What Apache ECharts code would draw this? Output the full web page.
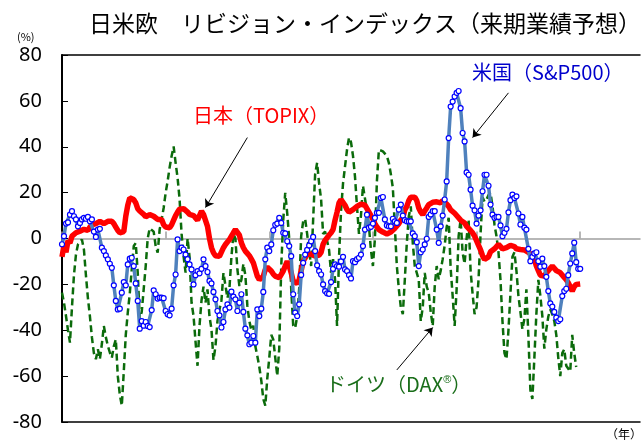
<!DOCTYPE html>
<html>
<head>
<meta charset="utf-8">
<script src="https://cdn.jsdelivr.net/npm/echarts@6/dist/echarts.min.js"></script>
<style>
  html, body { margin: 0; padding: 0; background: #fff; }
  #chart-container { width: 642px; height: 444px; }
</style>
</head>
<body>
<div id="chart-container"></div>
<script>
// weekly revision index (%)
var usRevision = [
  -2.5, 1, 6.5, 7, 10.4, 11.9, 9.7, 8.3, 5.3, 6.8,
  8.3, 9, 8.6, 9.4, 7.5, 8.3, 3, 0.7, 3.9, 4.2,
  -4, -5.5, -7.4, -9.1, -11, -12.8, -20.4, -27.2, -30.9, -30.6,
  -23.6, -19, -20.4, -11.3, -8.8, -8.4, -12, -19.6, -27.2, -39.3,
  -36, -38, -36.4, -38.1, -38.6, -31.2, -22.6, -24.3, -26.2, -25.8,
  -25.8, -26, -31.6, -33, -33.5, -30.6, -20.4, -15.7, -0.4, -5.5,
  -4, -4.8, -7, -9, -11.3, -13.5, -20, -16, -14.2, -15.2,
  -13.2, -9.1, -12, -14.6, -18.5, -19.6, -23.3, -26.5, -31.6, -33.5,
  -38.8, -36.4, -30.9, -28.7, -30.1, -23.2, -25.3, -26.5, -31.6, -28,
  -24.3, -32, -39.3, -42.2, -46.1, -45.4, -42.5, -45.4, -30.9, -33.8,
  -30.6, -23.3, -9.1, -4, -5.5, -2.6, 3.6, 6, 6.5, 9,
  6.8, 2.5, 2.2, -1.2, -3.3, -7.7, -24.3, -32.3, -33.8, -28.7,
  -15.9, -10.6, -7, -5, -3, -1.2, 0.7, -5.5, -11.7, -14.2,
  -15.7, -20, -22.9, -23.9, -24.1, -19, -13.2, -11.3, -12, -12.3,
  -10, -8, -13.5, -14.2, -16, -17.4, -9.9, -10.3, -9, -8.4,
  -7, -3.3, 3.9, 10.4, 4.7, 5.1, 6.5, 9, 11.2, 11.2,
  17.7, 18.1, 8.3, 5.7, 5.3, 5.3, 8.6, 7.5, 6.8, 12.6,
  14.8, 10, 8, 7.5, 7.5, 7.5, 2.2, 1, -1.6, -12,
  -6, -4.8, -2.6, -0.1, 9.4, 10.5, 11.9, 11.9, 3.9, -1.9,
  5.3, 10, 17, 24.9, 43.8, 57.5, 59.7, 61.9, 63.5, 64.3,
  56.8, 46, 42.3, 28.8, 27.8, 21.3, 14.3, 12.3, 6.5, 10,
  12.3, 20.6, 27.8, 27.8, 23, 14.8, 10.4, 9, 9.4, 9.4,
  5.7, 1, 2.5, 4.2, 11.4, 16.7, 19.1, 17.7, 18.4, 10.9,
  6.1, 9.4, 4.7, 3.9, -4.5, -9.9, -8, -6.5, -6, -9.9,
  -12.3, -8.8, -12, -16.7, -22.9, -28.3, -29.7, -32, -34.5, -36,
  -35.2, -25.1, -22.9, -21.9, -16, -10.9, -6.5, -1.8, -10.3, -13.2,
  -13.2
];

var japanRevision = [
  -8, -3, -6, -1, -2, 1, 1.5, 2.5, 3, 3.2,
  2.5, 4, 4.7, 3.5, 5, 6, 5.5, 6.5, 6.8, 7.5,
  7, 6.5, 7, 7.5, 7.5, 7.5, 6.5, 5, 3.5, 2.5,
  2.2, 3, 9.7, 14.5, 17.7, 18, 17, 15.5, 13, 12,
  11.5, 10.5, 9.5, 9.5, 10.4, 10, 9.7, 9, 8.3, 8.5,
  8.3, 6, 5, 4.7, 4.7, 6, 8, 10, 11.5, 12.8,
  13.3, 13, 12.5, 11.5, 10.5, 10, 10, 9, 8, 10,
  11.9, 10.5, 10, 5.3, 0, -4, -6.2, -7.5, -8, -7.8,
  -7, -4, -2.6, -1.5, -0.5, 1, 2.5, 3.9, 3.5, 1.5,
  -1.9, -4, -5.5, -6.5, -7.5, -9, -10.6, -13.5, -16.4, -18,
  -18.6, -16.5, -13.5, -12.5, -12.3, -14.2, -15.5, -16.4, -17, -17.1,
  -16.5, -14.2, -12, -9.9, -12, -15, -18.6, -19.3, -19.6, -18,
  -14, -9.9, -8.4, -7, -6.2, -6.8, -7.2, -7.7, -7.5, -7.2,
  -6, -2.5, -0.8, 0, 1.5, 2.5, 3.9, 8, 11.5, 15.5,
  17, 16.5, 14.5, 12.6, 11.5, 11.9, 12.6, 13.3, 14, 14.8,
  15, 15.5, 14.5, 13, 12.6, 10, 8.5, 6.5, 5, 3.9,
  3.2, 2.8, 2.5, 2, 2.3, 2.8, 3.2, 4.5, 4.7, 6.5,
  8, 9, 12.5, 14, 16.5, 18, 18.7, 18, 16.5, 13.3,
  11.5, 10.4, 12, 13.3, 14.8, 15, 15.8, 16.2, 16, 15.5,
  15.5, 16.5, 16, 15, 14, 12.5, 11.9, 11, 10, 10,
  8, 7.2, 6.8, 5.3, 4.5, 3.5, 2.5, 1, 0.3, -3,
  -5, -7.5, -9.1, -9, -8, -5.8, -5, -4.5, -4, -2.6,
  -3.5, -4.5, -4.8, -4, -3.3, -3, -2.6, -3.5, -4.5, -4.8,
  -4.8, -4.8, -5, -5.5, -6, -6.5, -7.4, -9, -12, -14,
  -16, -16.4, -16.4, -15, -14, -13, -12, -12.8, -14, -14.5,
  -14.9, -15.5, -17, -18, -19.3, -21, -23, -21, -20, -20,
  -19.8
];

var germanyRevision = [
  -23.6, -28, -33.8, -40, -45.4, -30, -16, -7, -2.6, -1.5,
  -0.4, -4.8, -16, -26, -33.8, -43, -50, -52.6, -48.3, -52.6,
  -46, -38.1, -43, -46.8, -49.7, -52, -47, -44, -60, -68,
  -72.9, -58, -42, -32.3, -24, -13.5, -3.3, -2, -15, -35,
  -32, -22, -12, 0, 4.5, 5.3, 3, -3.3, -6.2, 4,
  8.3, 13.3, 19.9, 25, 31, 36, 40.1, 33, 26.4, 17,
  2, -7.7, -14.9, 0, -8, -28, -33.8, -45, -55.5, -38,
  -27, -21, -28, -22.2, -34, -39.6, -53, -47, -36, -31,
  -27, -15, -15, -26, -22, -8, 2, 0, -13.5, -20.7,
  -18, -11, -16, -29.4, -36, -40, -38, -47, -51.2, -56,
  -62, -70, -72.9, -61, -52, -42, -44, -52, -59.9, -48,
  -12, 8, 19.9, 11, 0, -22, -38, -39, -34, -22,
  1, 7.5, 8.5, 2, -5.5, -12, 8, 28, 33, 24,
  17, 2, 3, 3, -5, -15, -9, -18, -38.1, -8,
  12, 24, 31.4, 38.7, 44, 42, 36, 27, 14, 2,
  10, 23, 23.5, 12, 5.3, -5, -12, 0, 25, 38.7,
  39.4, 38, 37, 36, 33, 28, 22, 5, -12, -22,
  -30, -33, -18, -2, 9.7, 14, -2, -12, -15, -18,
  -36, -30, -15, -21, -23.6, -32, -38.1, -21, -12, -17.8,
  -14, -9, -3, 5, 9, -13, -25, -38.1, -22, 1,
  8.3, -6.2, -11, 0, 8.3, -14, -24, -33, -30, -17.8,
  2, 18, 16, 17, 19, 19.9, 14, 6, 1, -6,
  -18, -36, -50, -52.6, -40, -24, -8, -6, -14, -25,
  -32, -39.6, -35, -22.2, -42.5, -66, -70, -52, -33, -18,
  -25, -33.8, -48, -39.6, -34, -31, -33, -36, -42, -52,
  -60, -50, -48.3, -55.5, -55.5, -58, -42, -50, -56
];

// one category per week, axis runs a little past the last data week
var weekCount = 291;
var weeksPerYear = 52;
var weeks = [];
for (var i = 0; i < weekCount; i++) {
  weeks.push(String(i));
}

var titleText = '日米欧　リビジョン・インデックス（来期業績予想）';
var cjkFont = '"Noto Sans CJK JP", "Noto Sans", sans-serif';

var myChart = echarts.init(document.getElementById('chart-container'));

var option = {
  animation: false,
  title: {
    text: titleText,
    left: 84,
    top: 7,
    textStyle: {
      fontSize: 23,
      fontWeight: 'normal',
      color: '#000',
      fontFamily: cjkFont
    }
  },
  grid: {
    left: 62,
    right: 2,
    top: 55,
    bottom: 22
  },
  xAxis: [
    {
      // zero line with yearly ticks
      type: 'category',
      data: weeks,
      boundaryGap: false,
      axisLine: { onZero: true, lineStyle: { color: '#a0a0a0', width: 1.5 } },
      axisTick: {
        show: true,
        inside: true,
        length: 7,
        interval: function(index) { return index % weeksPerYear === 0; },
        lineStyle: { color: '#a0a0a0', width: 1.5 }
      },
      axisLabel: { show: false },
      splitLine: { show: false }
    },
    {
      type: 'category',
      data: weeks,
      position: 'top',
      boundaryGap: false,
      axisLine: { onZero: false, lineStyle: { color: '#000', width: 1.5 } },
      axisTick: { show: false },
      axisLabel: { show: false }
    },
    {
      type: 'category',
      data: weeks,
      position: 'bottom',
      boundaryGap: false,
      axisLine: { onZero: false, lineStyle: { color: '#000', width: 1.5 } },
      axisTick: { show: false },
      axisLabel: { show: false }
    }
  ],
  yAxis: {
    type: 'value',
    min: -80,
    max: 80,
    interval: 20,
    axisLine: { show: true, lineStyle: { color: '#000', width: 2 } },
    axisTick: { show: true, inside: true, length: 6, lineStyle: { color: '#000' } },
    axisLabel: { fontSize: 20, color: '#000', margin: 20, fontFamily: '"Noto Sans", sans-serif' },
    splitLine: { show: false }
  },
  graphic: [
    { type: 'text', left: 17, top: 31, style: { text: '(%)', fontSize: 11, fill: '#000', fontFamily: cjkFont } },
    { type: 'text', left: 606, top: 428, style: { text: '（年）', fontSize: 12, fill: '#000', fontFamily: cjkFont } },
    { type: 'text', left: 193, top: 105, style: { text: '日本（TOPIX）', fontSize: 20, fill: '#ff0000', fontFamily: cjkFont } },
    { type: 'text', left: 472, top: 62, style: { text: '米国（S&P500）', fontSize: 20, fill: '#0000cc', fontFamily: cjkFont } },
    {
      type: 'text', left: 326, top: 374,
      style: {
        text: 'ドイツ（DAX{r|®}）',
        fontSize: 20,
        fill: '#1a6e1a',
        fontFamily: cjkFont,
        rich: { r: { fontSize: 11, fill: '#1a6e1a', verticalAlign: 'top', padding: [0, 0, 10, 0] } }
      }
    }
  ],
  series: [
    {
      name: 'ドイツ（DAX）',
      type: 'line',
      data: germanyRevision,
      symbol: 'none',
      lineStyle: { color: '#0b6b0b', width: 2.5, type: [7, 4] },
      z: 2
    },
    {
      name: '日本（TOPIX）',
      type: 'line',
      data: japanRevision,
      symbol: 'none',
      lineStyle: { color: '#ff0000', width: 5.5 },
      z: 3,
      markLine: {
        silent: true,
        symbol: ['none', 'arrow'],
        symbolSize: 8,
        label: { show: false },
        lineStyle: { color: '#000', width: 1, type: 'solid' },
        data: [
          [{ coord: [93, 44] }, { coord: [72, 13.5] }],
          [{ coord: [224, 63.5] }, { coord: [206, 44] }],
          [{ coord: [168, -57.3] }, { coord: [186, -38.8] }]
        ]
      }
    },
    {
      name: '米国（S&P500）',
      type: 'line',
      data: usRevision,
      symbol: 'circle',
      symbolSize: 5,
      showAllSymbol: true,
      lineStyle: { color: '#4f81bd', width: 3.5 },
      itemStyle: { color: '#ffffff', borderColor: '#0000ff', borderWidth: 1.2 },
      z: 4
    }
  ]
};

myChart.setOption(option);
</script>
</body>
</html>
